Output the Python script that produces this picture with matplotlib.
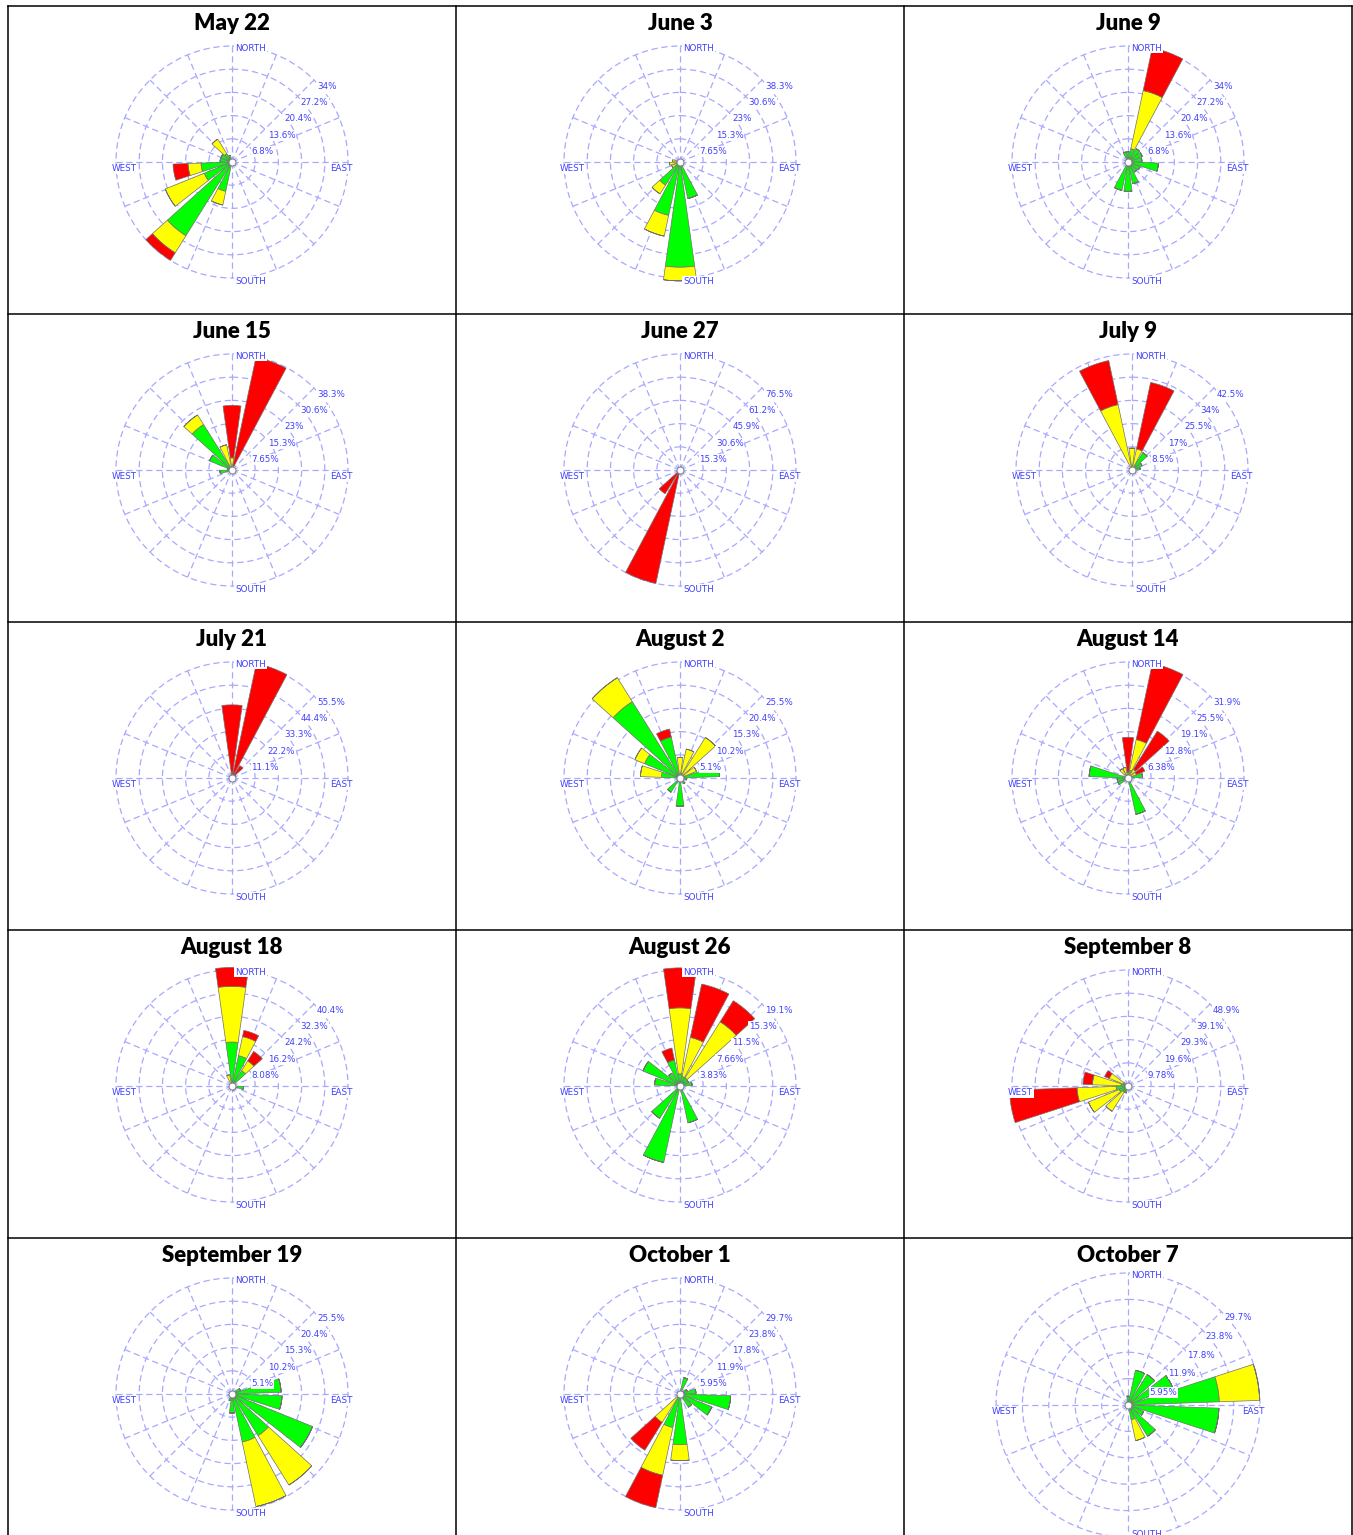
"""Grid of 15 wind roses (speed classes stacked green / yellow / red)."""

import matplotlib
matplotlib.use("Agg")
import matplotlib.pyplot as plt
import numpy as np
from matplotlib.lines import Line2D

# ---------------------------------------------------------------- data
TITLES = ["May 22", "June 3", "June 9",
          "June 15", "June 27", "July 9",
          "July 21", "August 2", "August 14",
          "August 18", "August 26", "September 8",
          "September 19", "October 1", "October 7"]

RING_STEPS = [6.8, 7.65, 6.8, 7.65, 15.3, 8.5, 11.1, 5.1, 6.38, 8.08,
              3.83, 9.78, 5.1, 5.95, 5.95]

RING_LABELS = [
    ["6.8%", "13.6%", "20.4%", "27.2%", "34%"],
    ["7.65%", "15.3%", "23%", "30.6%", "38.3%"],
    ["6.8%", "13.6%", "20.4%", "27.2%", "34%"],
    ["7.65%", "15.3%", "23%", "30.6%", "38.3%"],
    ["15.3%", "30.6%", "45.9%", "61.2%", "76.5%"],
    ["8.5%", "17%", "25.5%", "34%", "42.5%"],
    ["11.1%", "22.2%", "33.3%", "44.4%", "55.5%"],
    ["5.1%", "10.2%", "15.3%", "20.4%", "25.5%"],
    ["6.38%", "12.8%", "19.1%", "25.5%", "31.9%"],
    ["8.08%", "16.2%", "24.2%", "32.3%", "40.4%"],
    ["3.83%", "7.66%", "11.5%", "15.3%", "19.1%"],
    ["9.78%", "19.6%", "29.3%", "39.1%", "48.9%"],
    ["5.1%", "10.2%", "15.3%", "20.4%", "25.5%"],
    ["5.95%", "11.9%", "17.8%", "23.8%", "29.7%"],
    ["5.95%", "11.9%", "17.8%", "23.8%", "29.7%"],
]

# per panel: direction (deg) and share (%) of each speed class
MAY22 = {"dir":    [180, 200, 220, 240, 260, 280, 300, 320, 340],
         "green":  [1.0, 8.8, 25.5, 8.8, 9.1, 3.5, 3.5, 2.9, 2.0],
         "yellow": [0.0, 4.1, 5.9, 12.3, 3.8, 0.0, 0.0, 5.0, 0.0],
         "red":    [0.0, 0.0, 2.6, 0.0, 4.4, 0.0, 0.0, 0.0, 0.0]}
JUNE3 = {"dir":    [160, 180, 200, 220, 240, 260, 280],
         "green":  [12.3, 34.7, 18.0, 9.0, 1.0, 1.0, 0.5],
         "yellow": [0.0, 4.5, 7.0, 3.4, 2.0, 2.5, 2.0],
         "red":    [0, 0, 0, 0, 0, 0, 0]}
JUNE9 = {"dir":    [0, 20, 40, 60, 80, 100, 120, 140, 160, 180, 200, 340],
         "green":  [3.0, 4.0, 4.6, 4.5, 4.1, 8.9, 3.8, 3.5, 6.5, 8.6, 8.5, 3.0],
         "yellow": [0, 17.4, 0, 0, 0, 0, 0, 0, 0, 0, 0, 0],
         "red":    [0, 12.8, 0, 0, 0, 0, 0, 0, 0, 0, 0, 0]}
JUNE15 = {"dir":    [0, 20, 260, 280, 300, 320, 340],
          "green":  [0.5, 0.5, 4.0, 1.5, 8.0, 17.7, 1.0],
          "yellow": [3.5, 1.0, 0.0, 0.0, 0.0, 3.7, 7.5],
          "red":    [17.3, 36.5, 0, 0, 0, 0, 0]}
JUNE27 = {"dir":    [20, 200, 220],
          "green":  [2.0, 0.5, 0.5],
          "yellow": [0.0, 0.5, 0.5],
          "red":    [0.0, 75.5, 17.5]}
JULY9 = {"dir":    [0, 20, 40, 60, 80, 340],
         "green":  [0.0, 0.5, 7.5, 4.0, 3.0, 0.5],
         "yellow": [8.0, 7.4, 0, 0, 0, 24.0],
         "red":    [0.0, 24.9, 0, 0, 0, 16.5]}
JULY21 = {"dir":    [0, 20, 40, 60],
          "green":  [0.5, 0.5, 0.5, 2.0],
          "yellow": [1.0, 1.5, 1.5, 0.0],
          "red":    [33.5, 54.0, 5.0, 0.0]}
AUG2 = {"dir":    [0, 20, 40, 60, 80, 100, 140, 180, 220, 280, 300, 320, 340],
        "green":  [0.5, 1.0, 0.5, 1.0, 8.7, 1.5, 1.5, 6.2, 3.7, 4.1, 8.4, 19.8, 9.2],
        "yellow": [4.0, 5.5, 10.0, 2.9, 0, 0, 0, 0, 0, 4.6, 2.3, 6.2, 0.0],
        "red":    [0, 0, 0, 0, 0, 0, 0, 0, 0, 0, 0, 0, 1.8]}
AUG14 = {"dir":    [0, 20, 40, 60, 80, 160, 240, 260, 280, 320, 340],
         "green":  [0.5, 2.2, 0.5, 0.5, 4.0, 10.2, 3.0, 3.0, 10.7, 0.5, 0.5],
         "yellow": [1.0, 8.6, 2.3, 2.0, 0, 0, 0, 0, 0, 2.5, 2.5],
         "red":    [9.7, 21.4, 12.4, 2.5, 0, 0, 0, 0, 0, 0, 0]}
AUG18 = {"dir":    [0, 20, 40, 100, 120, 160, 340],
         "green":  [15.3, 10.8, 6.3, 4.0, 1.5, 1.5, 0.5],
         "yellow": [19.4, 6.8, 4.0, 0, 0, 0, 3.5],
         "red":    [6.6, 2.2, 3.9, 0, 0, 0, 0]}
AUG26 = {"dir":    [0, 20, 40, 60, 80, 160, 200, 220, 280, 300, 320, 340],
         "green":  [2.0, 1.6, 1.6, 1.5, 2.0, 6.2, 12.9, 6.3, 4.2, 6.6, 2.5, 4.4],
         "yellow": [10.9, 6.6, 10.9, 0, 0, 0, 0, 0, 0, 0, 0, 0],
         "red":    [6.6, 9.0, 4.1, 0, 0, 0, 0, 0, 0, 0, 0, 2.0]}
SEP8 = {"dir":    [200, 220, 240, 260, 280, 300],
        "green":  [3.0, 3.0, 4.0, 5.0, 3.0, 2.0],
        "yellow": [0.0, 9.6, 14.0, 16.5, 12.0, 6.5],
        "red":    [0.0, 0.0, 0.0, 28.5, 4.0, 2.1]}
SEP19 = {"dir":    [60, 80, 100, 120, 140, 160, 180, 200],
         "green":  [2.0, 10.8, 11.0, 19.1, 10.8, 10.8, 4.2, 1.5],
         "yellow": [0, 0, 0, 0, 12.8, 14.5, 0, 0],
         "red":    [0, 0, 0, 0, 0, 0, 0, 0]}
OCT1 = {"dir":    [20, 60, 80, 100, 120, 140, 180, 200, 220],
        "green":  [4.3, 2.0, 4.1, 13.0, 8.8, 4.0, 13.0, 8.8, 1.0],
        "yellow": [0, 0, 0, 0, 0, 0, 4.1, 12.5, 7.6],
        "red":    [0, 0, 0, 0, 0, 0, 0, 8.5, 8.4]}
OCT7 = {"dir":    [0, 20, 40, 60, 80, 100, 120, 140, 160],
        "green":  [2.0, 8.0, 8.1, 10.8, 20.6, 20.5, 3.8, 8.3, 3.4],
        "yellow": [0, 0, 0, 0, 9.1, 0, 0, 0, 4.8],
        "red":    [0, 0, 0, 0, 0, 0, 0, 0, 0]}

PANELS = [MAY22, JUNE3, JUNE9, JUNE15, JUNE27, JULY9, JULY21, AUG2, AUG14,
          AUG18, AUG26, SEP8, SEP19, OCT1, OCT7]

# ---------------------------------------------------------------- layout
W, H = 1353, 1535
COL_X = [8, 456, 904, 1352]
ROW_Y = [6, 314, 622, 930, 1238]
CELL_W, CELL_H = 448, 308

GRID_C = "#a8a8ff"
TEXT_C = "#4040ff"
CLASS_C = {"green": "#00ff00", "yellow": "#ffff00", "red": "#ff0000"}


def px_rect(cx, cy, R):
    return [(cx - R) / W, 1 - (cy + R) / H, 2 * R / W, 2 * R / H]


def draw_rose(fig, cx, cy, R, data, step, labels, south_dy=-2.5):
    ax = fig.add_axes(px_rect(cx, cy, R), projection="polar")
    ax.set_theta_zero_location("N")
    ax.set_theta_direction(-1)
    rmax = 5 * step
    ax.set_ylim(0, rmax)
    ax.set_axis_off()

    dash = (0, (5, 3))
    th = np.linspace(0, 2 * np.pi, 361)
    for k in range(1, 6):
        ax.plot(th, np.full_like(th, k * step), color=GRID_C, lw=0.9,
                ls=dash, clip_on=False, zorder=1)
    for a in np.arange(16) * 22.5:
        t = np.radians(a)
        ax.plot([t, t], [0, rmax], color=GRID_C, lw=0.9, ls=dash,
                clip_on=False, zorder=1)

    theta = np.radians(data["dir"])
    bottom = np.zeros(len(theta))
    for cls in ["green", "yellow", "red"]:
        vals = np.asarray(data[cls], dtype=float)
        ax.bar(theta, vals, width=np.radians(16), bottom=bottom,
               color=CLASS_C[cls], edgecolor="#707070", lw=0.5,
               clip_on=False, zorder=3)
        bottom = bottom + vals
    ax.plot([0], [0], marker="o", ms=5, mfc="white", mec="#808080",
            mew=0.7, zorder=6, clip_on=False)

    box = dict(fc="white", ec="none", pad=0.6)
    for k, lab in enumerate(labels, start=1):
        ax.annotate(lab, xy=(np.radians(45), k * step), xytext=(2.2, -1.2),
                    textcoords="offset points", ha="left", va="top",
                    fontsize=6.3, color=TEXT_C, bbox=box, zorder=7,
                    annotation_clip=False)
    compass = [("NORTH", 0, (2.2, -1.5), "left"),
               ("SOUTH", 180, (2.2, south_dy), "left"),
               ("WEST", 270, (-3.0, -5.0), "left"),
               ("EAST", 90, (3.0, -5.0), "right")]
    for lab, ang, off, ha in compass:
        ax.annotate(lab, xy=(np.radians(ang), rmax), xytext=off,
                    textcoords="offset points", ha=ha, va="center",
                    fontsize=6.3, color=TEXT_C, bbox=box, zorder=7,
                    annotation_clip=False)
    return ax


fig = plt.figure(figsize=(W / 100, H / 100), dpi=100)
fig.patch.set_facecolor("white")

# table rules
for x in COL_X:
    fig.add_artist(Line2D([x / W, x / W], [0, 1 - ROW_Y[0] / H],
                          color="black", lw=1.1))
for y in ROW_Y:
    fig.add_artist(Line2D([COL_X[0] / W, COL_X[-1] / W], [1 - y / H, 1 - y / H],
                          color="black", lw=1.1))

for i, data in enumerate(PANELS):
    r, c = divmod(i, 3)
    tx = 232 + CELL_W * c
    cx, cy, R, south_dy = tx, 162 + CELL_H * r, 116, -2.5
    if TITLES[i] == "October 7":
        cy, R, south_dy = 1405, 132, 2.0
    if TITLES[i] == "July 9":
        cx += 4
    draw_rose(fig, cx, cy, R, data, RING_STEPS[i], RING_LABELS[i], south_dy)
    fig.text(tx / W, 1 - (ROW_Y[r] + 18) / H, TITLES[i],
             ha="center", va="center", fontsize=16, fontweight="heavy",
             family=["Lato", "DejaVu Sans"])

fig.savefig("out.png", dpi=100)
